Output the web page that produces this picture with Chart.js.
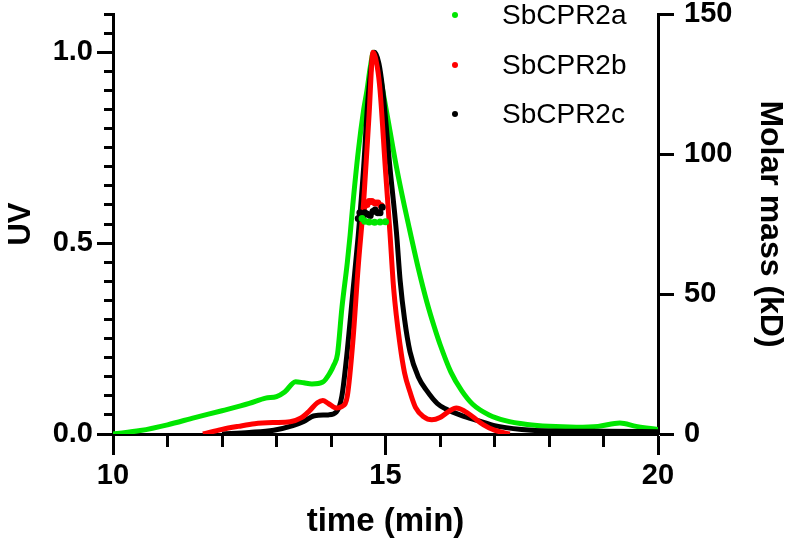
<!DOCTYPE html>
<html lang="en">
<head>
    <meta charset="UTF-8">
    <title>SbCPR2 SEC-MALS</title>
    <script src="https://cdn.jsdelivr.net/npm/chart.js"></script>
    <style>
        body { margin: 0; background: #fff; }
        #wrap { width: 792px; height: 550px; }
    </style>
</head>
<body>
    <div id="wrap"><canvas id="secChart" width="792" height="550"></canvas></div>

    <script>
        // UV traces (normalised)
        const aTime = [10.0, 10.5, 11.0, 11.5, 12.0, 12.5, 12.8, 13.0, 13.15, 13.35, 13.5, 13.65, 13.85, 13.98, 14.05, 14.12, 14.2, 14.3, 14.35, 14.4, 14.5, 14.6, 14.66, 14.72, 14.78, 14.85, 14.95, 15.05, 15.2, 15.35, 15.45, 15.6, 15.76, 15.9, 16.0, 16.2, 16.4, 16.6, 16.9, 17.2, 17.6, 18.0, 18.5, 18.9, 19.3, 19.6, 20.0];
        const aUV   = [0.0, 0.009, 0.024, 0.043, 0.061, 0.08, 0.094, 0.098, 0.11, 0.137, 0.134, 0.131, 0.136, 0.16, 0.18, 0.21, 0.33, 0.45, 0.52, 0.6, 0.74, 0.85, 0.9, 0.96, 1.0, 0.98, 0.9, 0.82, 0.7, 0.595, 0.53, 0.435, 0.345, 0.278, 0.235, 0.162, 0.113, 0.078, 0.05, 0.035, 0.025, 0.02, 0.018, 0.02, 0.029, 0.02, 0.012];

        const bTime = [11.65, 12.0, 12.3, 12.6, 12.95, 13.25, 13.45, 13.6, 13.75, 13.85, 13.95, 14.1, 14.2, 14.3, 14.4, 14.5, 14.6, 14.7, 14.77, 14.85, 14.9, 15.0, 15.08, 15.15, 15.27, 15.35, 15.45, 15.55, 15.7, 15.85, 16.0, 16.15, 16.3, 16.45, 16.6, 16.8, 17.0, 17.28];
        const bUV   = [0.0, 0.012, 0.02, 0.027, 0.03, 0.032, 0.042, 0.06, 0.082, 0.088, 0.08, 0.068, 0.072, 0.1, 0.24, 0.44, 0.61, 0.84, 1.0, 0.96, 0.9, 0.69, 0.53, 0.38, 0.23, 0.16, 0.11, 0.07, 0.045, 0.037, 0.043, 0.058, 0.068, 0.06, 0.045, 0.024, 0.01, 0.0];

        const cTime = [12.0, 12.5, 12.95, 13.3, 13.5, 13.7, 13.95, 14.1, 14.2, 14.3, 14.4, 14.5, 14.6, 14.68, 14.8, 14.88, 14.95, 15.08, 15.2, 15.27, 15.35, 15.45, 15.6, 15.76, 15.95, 16.1, 16.4, 16.7, 17.0, 17.5, 18.0, 19.0, 20.0];
        const cUV   = [0.0, 0.004, 0.01, 0.022, 0.033, 0.048, 0.05, 0.058, 0.1, 0.22, 0.37, 0.52, 0.7, 0.88, 1.0, 0.97, 0.9, 0.7, 0.53, 0.4, 0.3, 0.215, 0.15, 0.113, 0.08, 0.066, 0.048, 0.035, 0.022, 0.012, 0.008, 0.007, 0.006];

        // molar mass across the peak (kD)
        const aMMTime = [14.57, 14.62, 14.7, 14.8, 14.9, 15.0];
        const aMM     = [77, 76, 75.7, 75.6, 75.7, 75.8];
        const bMMTime = [14.57, 14.66, 14.7, 14.75, 14.81, 14.86, 14.92];
        const bMM     = [77, 82, 83, 83, 82.5, 82.5, 81.5];
        const cMMTime = [14.5, 14.53, 14.58, 14.62, 14.67, 14.72, 14.77, 14.81, 14.86, 14.9, 14.94];
        const cMM     = [77, 79, 78, 79, 78.5, 78, 79.5, 80, 79, 79, 81];

        const seriesNames = ["SbCPR2a", "SbCPR2b", "SbCPR2c"];
        const seriesColors = ["#00e600", "#ff0000", "#000000"];

        // labelled ticks; minor ticks every 1 min / 0.05 UV
        const timeTicks = [10, 15, 20];
        const uvTicks = [0, 0.5, 1.0];
        const mmTicks = [0, 50, 100, 150];
        const timeMinorTicks = [10, 11, 12, 13, 14, 15, 16, 17, 18, 19, 20];
        const uvMinorTicks = [];
        for (let i = 0; i <= 22; i++) uvMinorTicks.push(i * 5 / 100);

        const FONT = "'Liberation Sans', Arial, sans-serif";

        function pts(xs, ys) {
            return xs.map((x, i) => ({ x: x, y: ys[i] }));
        }
        const isMajor = (list, v) => list.some(m => Math.abs(m - v) < 1e-6);

        // legend in the top right
        const legendDots = {
            id: "legendDots",
            afterDraw(chart) {
                const ctx = chart.ctx;
                const rows = [15, 65, 114];
                ctx.save();
                ctx.font = "28px " + FONT;
                ctx.textBaseline = "middle";
                ctx.textAlign = "left";
                seriesNames.forEach((name, i) => {
                    ctx.fillStyle = seriesColors[i];
                    ctx.beginPath();
                    ctx.arc(455, rows[i], 3, 0, Math.PI * 2);
                    ctx.fill();
                    ctx.fillStyle = "#000";
                    ctx.fillText(name, 502, rows[i] + 1);
                });
                ctx.restore();
            }
        };

        function uvSet(i, xs, ys, order) {
            return {
                label: seriesNames[i],
                data: pts(xs, ys),
                yAxisID: "y",
                borderColor: seriesColors[i],
                backgroundColor: seriesColors[i],
                borderWidth: 5,
                pointRadius: 0,
                cubicInterpolationMode: "monotone",
                showLine: true,
                order: order
            };
        }

        function mmSet(i, xs, ys) {
            return {
                label: seriesNames[i] + " MM",
                data: pts(xs, ys),
                yAxisID: "y2",
                borderColor: seriesColors[i],
                backgroundColor: seriesColors[i],
                borderWidth: 3,
                pointRadius: 2,
                showLine: true,
                order: 0
            };
        }

        const ctxSec = document.getElementById("secChart").getContext("2d");
        const secChart = new Chart(ctxSec, {
            type: "scatter",
            data: {
                datasets: [
                    uvSet(0, aTime, aUV, 3),
                    uvSet(1, bTime, bUV, 1),
                    uvSet(2, cTime, cUV, 2),
                    mmSet(0, aMMTime, aMM),
                    mmSet(2, cMMTime, cMM),
                    mmSet(1, bMMTime, bMM)
                ]
            },
            options: {
                responsive: false,
                animation: false,
                layout: { padding: { top: 14, left: 0, right: 0, bottom: 0 } },
                plugins: { legend: { display: false }, tooltip: { enabled: false } },
                scales: {
                    x: {
                        type: "linear", position: "bottom", min: 10, max: 20,
                        afterBuildTicks: s => { s.ticks = timeMinorTicks.map(v => ({ value: v })); },
                        afterFit: s => { s.height = 116; s.paddingLeft = 0; s.paddingRight = 0; },
                        border: { display: true, color: "#000", width: 3 },
                        grid: {
                            display: true, drawOnChartArea: false, drawTicks: true, tickLength: 21, tickWidth: 3, tickColor: "#000",
                            tickBorderDash: c => isMajor(timeTicks, c.tick.value) ? [] : [11, 100]
                        },
                        ticks: {
                            color: "#000", padding: 4, maxRotation: 0, autoSkip: false,
                            callback: v => isMajor(timeTicks, v) ? String(v) : "",
                            font: { family: FONT, size: 29, weight: "bold" }
                        },
                        title: { display: true, text: "time (min)", color: "#000", padding: { top: 0, bottom: 8 }, font: { family: FONT, size: 33, weight: "bold" } }
                    },
                    y: {
                        type: "linear", position: "left", min: 0, max: 1.1,
                        afterBuildTicks: s => { s.ticks = uvMinorTicks.map(v => ({ value: v })); },
                        afterFit: s => { s.width = 113; s.paddingTop = 0; s.paddingBottom = 0; },
                        border: { display: true, color: "#000", width: 3 },
                        grid: {
                            display: true, drawOnChartArea: false, drawTicks: true, tickLength: 16, tickWidth: 3, tickColor: "#000",
                            tickBorderDash: c => isMajor(uvTicks, c.tick.value) ? [] : [0, 7, 12, 100]
                        },
                        ticks: {
                            color: "#000", padding: 4, autoSkip: false,
                            callback: v => isMajor(uvTicks, v) ? v.toFixed(1) : "",
                            font: { family: FONT, size: 29, weight: "bold" }
                        },
                        title: { display: true, text: "UV", color: "#000", padding: { top: 3, bottom: 0 }, font: { family: FONT, size: 31, weight: "bold" } }
                    },
                    y2: {
                        type: "linear", position: "right", min: 0, max: 150,
                        afterBuildTicks: s => { s.ticks = mmTicks.map(v => ({ value: v })); },
                        afterFit: s => { s.width = 134; s.paddingTop = 0; s.paddingBottom = 0; },
                        border: { display: true, color: "#000", width: 3 },
                        grid: { display: true, drawOnChartArea: false, drawTicks: true, tickLength: 16, tickWidth: 3, tickColor: "#000" },
                        ticks: { color: "#000", padding: 10, font: { family: FONT, size: 29, weight: "bold" } },
                        title: { display: true, text: "Molar mass (kD)", color: "#000", padding: { top: 3, bottom: 0 }, font: { family: FONT, size: 32, weight: "bold" } }
                    }
                }
            },
            plugins: [legendDots]
        });
    </script>
</body>
</html>
